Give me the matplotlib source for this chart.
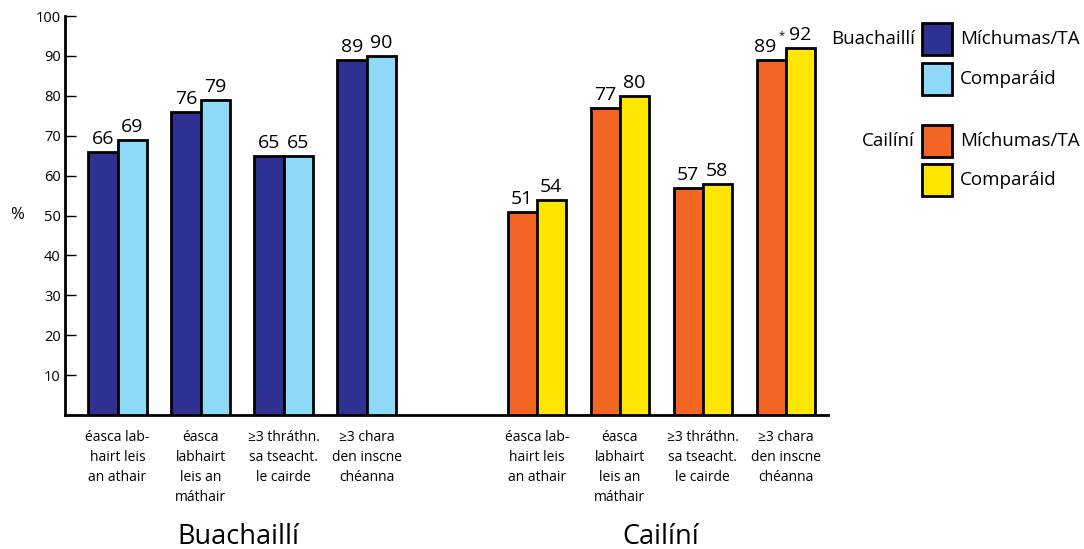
import matplotlib
matplotlib.use('Agg')
import matplotlib.pyplot as plt
import numpy as np
from matplotlib.patches import Rectangle

plt.rcParams['font.family'] = ['Open Sans', 'DejaVu Sans']

# Datos
categorias = ['éasca lab-\nhairt leis\nan athair',
              'éasca\nlabhairt\nleis an\nmáthair',
              '≥3 thráthn.\nsa tseacht.\nle cairde',
              '≥3 chara\nden inscne\nchéanna']
buach_mich = [66, 76, 65, 89]
buach_comp = [69, 79, 65, 90]
cail_mich = [51, 77, 57, 89]
cail_comp = [54, 80, 58, 92]
cail_reil = [False, False, False, True]   # el asterisco

grupos = ['Buachaillí', 'Cailíní']
series = ['Míchumas/TA', 'Comparáid']
colores = {'Buachaillí': ['#2E3192', '#8ED8F8'],
           'Cailíní': ['#F26522', '#FFE600']}

W, H = 1084, 549
fig = plt.figure(figsize=(W / 100, H / 100), dpi=100)
ax = fig.add_axes([65 / W, 1 - 415 / H, 763 / W, 399 / H])

ancho = 0.35
xb = np.arange(4)
xc = np.arange(4) + 5.05

def barras(x, v1, v2, cols, reil=None):
    ax.bar(x - ancho / 2, v1, ancho, color=cols[0], edgecolor='black', linewidth=2.0, zorder=3)
    ax.bar(x + ancho / 2, v2, ancho, color=cols[1], edgecolor='black', linewidth=2.0, zorder=3)
    for i in range(len(x)):
        dx = 0
        if reil is not None and reil[i]:
            dx = -4
            ax.annotate('*', (x[i] - ancho / 2, v1[i] + 1.0), xytext=(5, 11),
                        textcoords='offset points', ha='left', va='bottom', fontsize=8)
        ax.annotate(str(v1[i]), (x[i] - ancho / 2, v1[i] + 1.0), xytext=(dx, 0),
                    textcoords='offset points', ha='center', va='bottom', fontsize=14)
        ax.text(x[i] + ancho / 2, v2[i] + 1.0, str(v2[i]), ha='center', va='bottom', fontsize=14)

barras(xb, buach_mich, buach_comp, colores['Buachaillí'])
barras(xc, cail_mich, cail_comp, colores['Cailíní'], cail_reil)

ax.set_xlim(-0.633, 8.56)
ax.set_ylim(0, 100)
ax.set_yticks(np.arange(10, 101, 10))
ax.tick_params(axis='y', direction='in', length=8, width=1, labelsize=10.5, pad=3)
ax.set_xticks(np.concatenate([xb, xc]))
ax.set_xticklabels(categorias * 2, fontsize=10, linespacing=1.45)
ax.tick_params(axis='x', length=0, pad=11)

for s in ['top', 'right']:
    ax.spines[s].set_visible(False)
ax.spines['left'].set_linewidth(2)
ax.spines['bottom'].set_linewidth(2)

fig.text(17 / W, 1 - 215 / H, '%', ha='center', va='center', fontsize=12)

# titulos de grupo
ax.text(xb.mean() - 0.05, -0.306, grupos[0], transform=ax.get_xaxis_transform(),
        ha='center', va='center', fontsize=19.5)
ax.text(xc.mean(), -0.306, grupos[1], transform=ax.get_xaxis_transform(),
        ha='center', va='center', fontsize=19.5)

# leyenda manual
filas = [(39, 0, 0), (79, 0, 1), (141, 1, 0), (180, 1, 1)]
for yc, g, s in filas:
    fig.add_artist(Rectangle((922 / W, 1 - (yc + 16) / H), 30 / W, 32 / H,
                             facecolor=colores[grupos[g]][s], edgecolor='black',
                             linewidth=2, transform=fig.transFigure))
    fig.text(960 / W, 1 - yc / H, series[s], ha='left', va='center', fontsize=13.5)
    if s == 0:
        fig.text(915 / W, 1 - yc / H, grupos[g], ha='right', va='center', fontsize=13.5)

fig.savefig('out.png', dpi=100)
